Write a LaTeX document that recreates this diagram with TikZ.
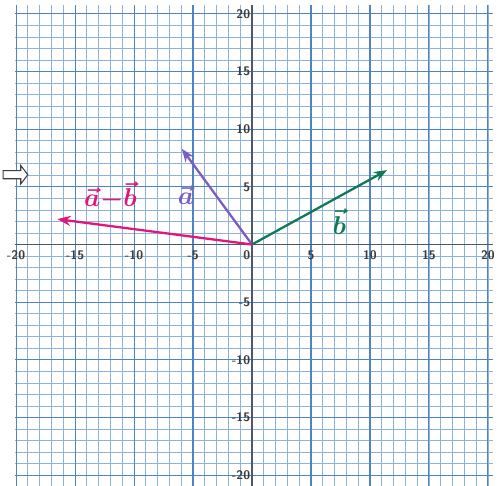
\documentclass[tikz,border=0pt]{standalone}
\usepackage{amsmath}
\usetikzlibrary{arrows.meta}
\definecolor{gridblue}{HTML}{8FB2DB}
\definecolor{majblue}{HTML}{4F84C2}
\definecolor{axgray}{HTML}{4E5866}
\definecolor{numgray}{HTML}{3C3C3C}
\definecolor{vpink}{HTML}{E0167C}
\definecolor{vpurple}{HTML}{7A5CC2}
\definecolor{vgreen}{HTML}{0E7A52}

\begin{document}
\begin{tikzpicture}[x=0.4cm,y=0.391cm,
  grd/.style={gridblue,line width=0.7pt},
  maj/.style={majblue,line width=1pt},
  ax/.style={axgray,line width=1.1pt},
  num/.style={font=\sffamily\bfseries\fontsize{12}{14}\selectfont,text=numgray,inner sep=1pt},
  vec/.style={line width=2.2pt,line cap=round,-{Stealth[length=4.5mm,width=3.4mm]}},
  lbl/.style={font=\fontsize{24}{26}\selectfont\boldmath,inner sep=0pt}]
  \fill[white] (-21.36,-20.86) rectangle (21.02,21.2);
  \useasboundingbox (-21.36,-20.86) rectangle (21.02,21.2);
  % grid
  \foreach \i in {-20,...,20}{
    \draw[grd] (\i,-20.9) -- (\i,20.8);
    \draw[grd] (-20.1,\i) -- (20.4,\i);}
  \foreach \i in {-20,-15,...,20}{
    \draw[maj] (\i,-20.9) -- (\i,20.8);
    \draw[maj] (-20.1,\i) -- (20.4,\i);}
  \draw[ax] (-20.1,0) -- (20.4,0);
  \draw[ax] (0,-20.9) -- (0,20.8);
  % axis numbers
  \foreach \i in {-20,-15,-10,-5,5,10,15,20}{
    \node[num] (xl\i) at (\i,-0.95) {\i};
    \node[num,anchor=east] (yl\i) at (-0.05,\i) {\i};}
  \node[num] (zl) at (-0.45,-0.95) {0};
  % marker on the left edge
  \draw[numgray,fill=white,line width=1pt] (-21.1,5.7) -- (-19.6,5.7) -- (-19.6,5.25)
    -- (-19.0,6.05) -- (-19.6,6.85) -- (-19.6,6.4) -- (-21.1,6.4) -- cycle;
  % vectors
  \coordinate (O) at (0,0);
  \coordinate (A) at (-5.95,8.3);
  \coordinate (B) at (11.45,6.45);
  \coordinate (D) at (-16.5,2.2);
  \draw[vec,vpurple] (O) -- (A);
  \draw[vec,vgreen] (O) -- (B);
  \draw[vec,vpink] (O) -- (D);
  \node[lbl,text=vpurple] (la) at (-5.6,4.3) {$\vec{a}$};
  \node[lbl,text=vgreen] (lb) at (7.4,2.0) {$\vec{b}$};
  \node[lbl,text=vpink] (lab) at (-12.0,4.2) {$\vec{a}{-}\vec{b}$};
\end{tikzpicture}
\end{document}
